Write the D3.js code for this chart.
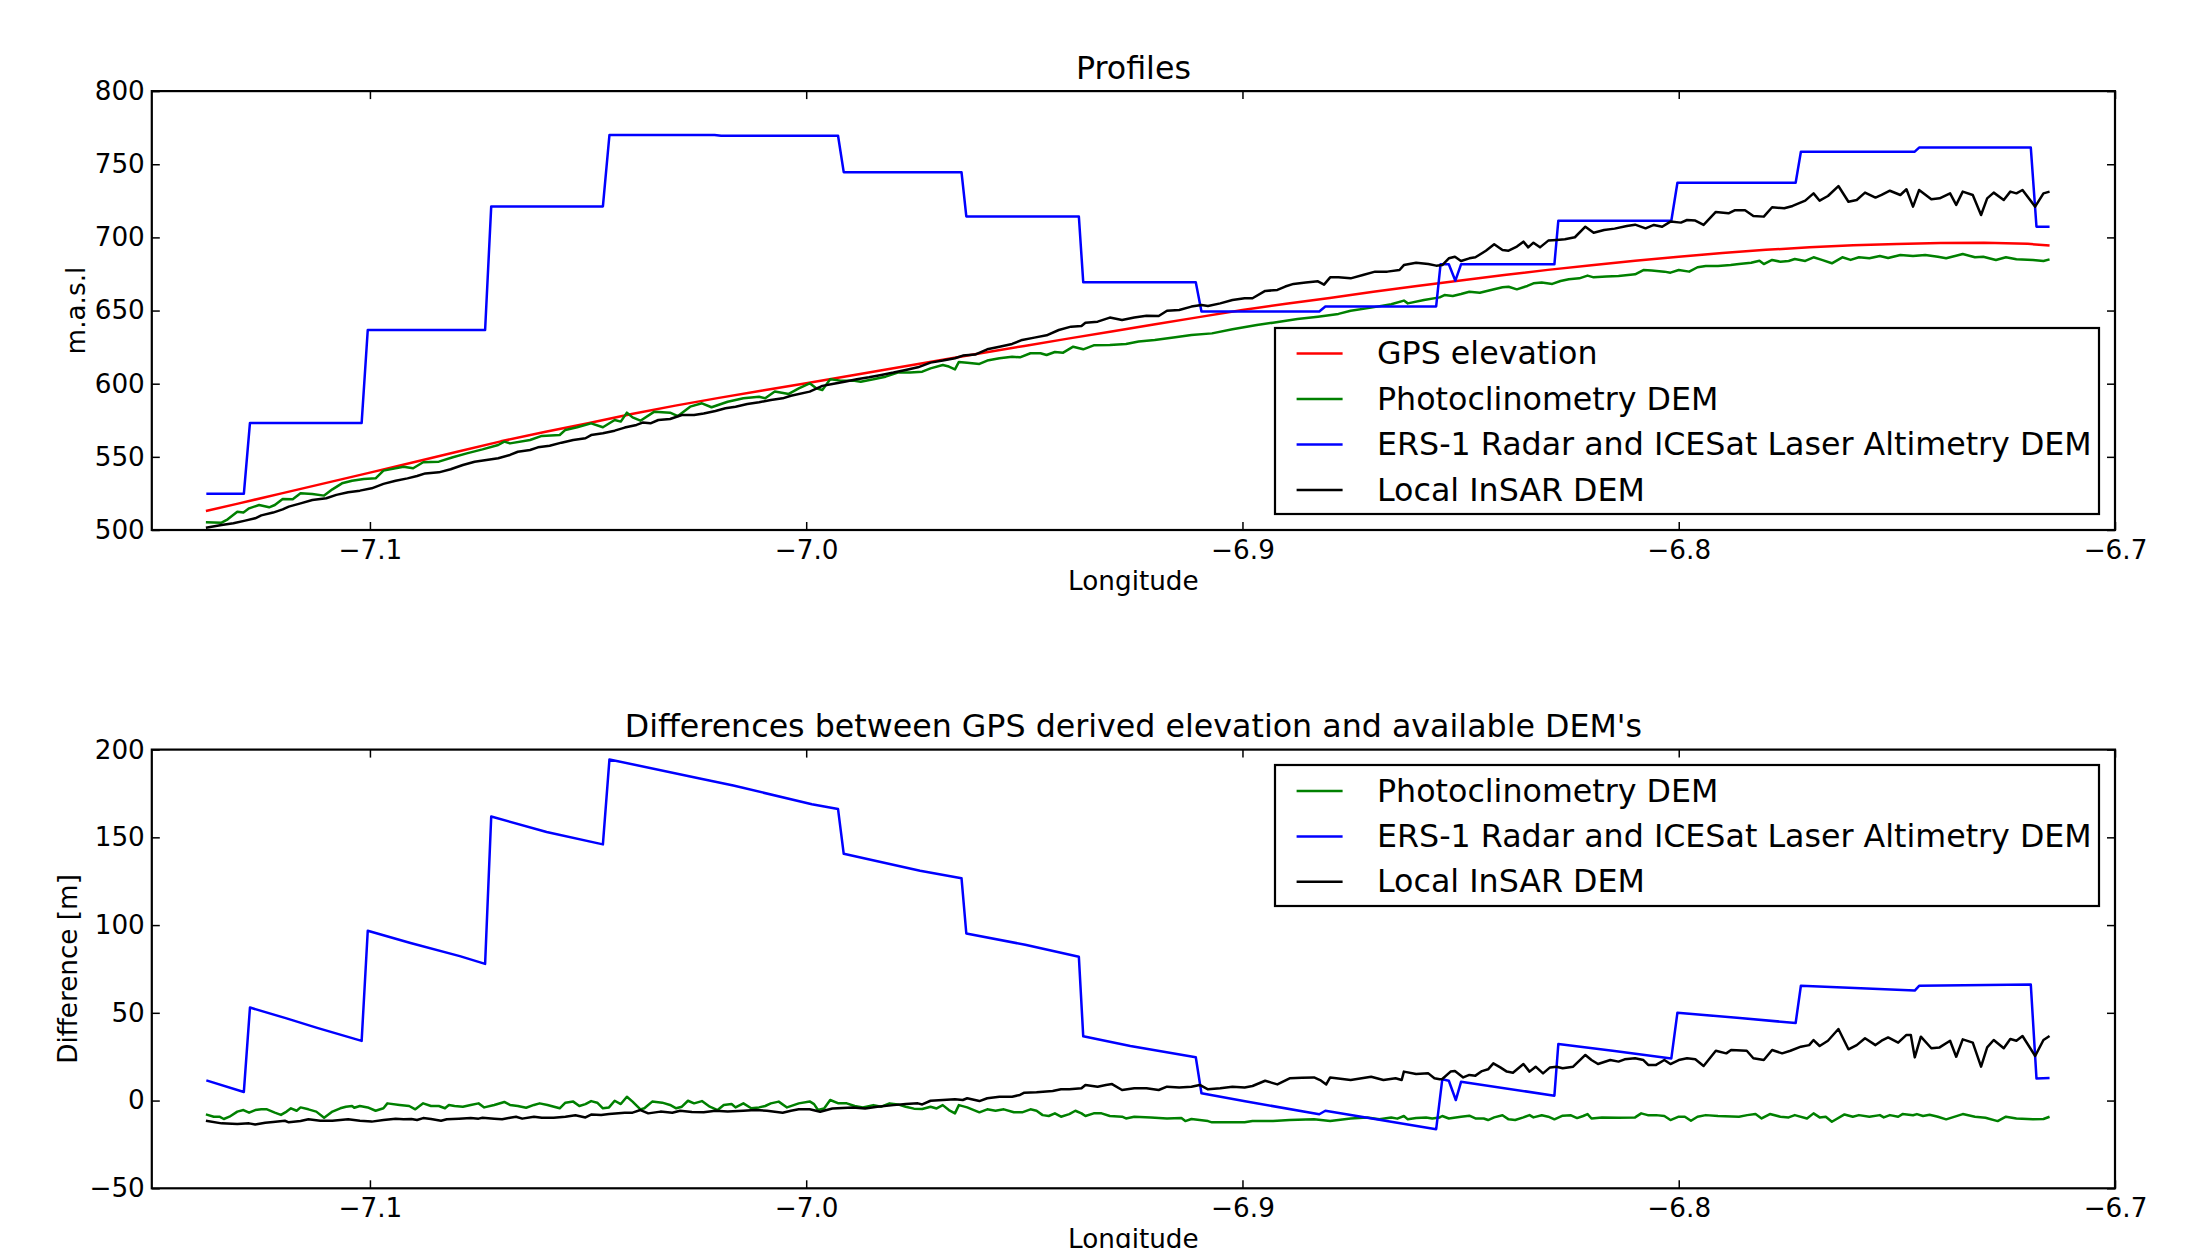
<!DOCTYPE html>
<html>
<head>
<meta charset="utf-8">
<script src="https://cdn.jsdelivr.net/npm/d3@7"></script>
<style>
body { margin: 0; background: #fff; }
text { font-family: "DejaVu Sans", sans-serif; }
</style>
</head>
<body>
<script>
// tick values
const xTicks = [-7.1, -7.0, -6.9, -6.8, -6.7];
const profileTicks = [500, 550, 600, 650, 700, 750, 800];
const diffTicks = [-50, 0, 50, 100, 150, 200];

// series labels
const profileLabels = ["GPS elevation", "Photoclinometry DEM", "ERS-1 Radar and ICESat Laser Altimetry DEM", "Local InSAR DEM"];
const diffLabels = ["Photoclinometry DEM", "ERS-1 Radar and ICESat Laser Altimetry DEM", "Local InSAR DEM"];

// [longitude, m.a.s.l]
const profileGps = [[-7.1376,513.0],[-7.13,518.2],[-7.12,525.2],[-7.11,532.2],[-7.10,539.2],[-7.09,546.3],[-7.08,553.5],[-7.07,560.6],[-7.06,567.0],[-7.05,573.0],[-7.04,579.3],[-7.03,585.0],[-7.02,590.3],[-7.01,595.4],[-7.00,600.3],[-6.99,605.5],[-6.98,610.6],[-6.97,615.7],[-6.96,620.8],[-6.95,625.8],[-6.94,630.8],[-6.93,635.7],[-6.92,640.6],[-6.91,645.5],[-6.90,650.4],[-6.89,654.6],[-6.88,658.6],[-6.87,662.8],[-6.86,666.8],[-6.85,670.6],[-6.84,674.3],[-6.83,677.8],[-6.82,681.0],[-6.81,684.0],[-6.80,686.8],[-6.79,689.3],[-6.78,691.5],[-6.77,693.2],[-6.76,694.6],[-6.75,695.5],[-6.74,696.1],[-6.73,696.3],[-6.72,695.6],[-6.715,694.4]];

const profilePhoto = [[-7.1376,505.3],[-7.1340,505.0],[-7.1326,507.3],[-7.1304,512.5],[-7.1290,511.9],[-7.1277,514.8],[-7.1254,517.1],[-7.1231,515.5],[-7.1218,517.1],[-7.1200,521.2],[-7.1177,521.0],[-7.1159,525.1],[-7.1132,524.6],[-7.1105,523.5],[-7.1086,527.8],[-7.1064,531.9],[-7.1041,533.7],[-7.1014,534.9],[-7.0987,535.3],[-7.0969,540.6],[-7.0923,543.3],[-7.0901,542.2],[-7.0878,546.3],[-7.0842,546.7],[-7.0810,549.7],[-7.0778,552.4],[-7.0742,555.1],[-7.0706,558.1],[-7.0692,560.4],[-7.0679,559.2],[-7.0633,561.5],[-7.0606,564.3],[-7.0565,564.9],[-7.0552,568.4],[-7.0525,570.2],[-7.0493,572.9],[-7.0466,570.2],[-7.0439,575.2],[-7.0425,574.1],[-7.0411,580.2],[-7.0398,577.0],[-7.0380,574.7],[-7.0348,580.9],[-7.0312,580.2],[-7.0294,577.9],[-7.0266,584.3],[-7.0239,586.6],[-7.0217,583.9],[-7.0180,587.7],[-7.0144,590.0],[-7.0108,591.1],[-7.0094,590.0],[-7.0072,594.6],[-7.0040,593.0],[-7.0017,596.8],[-6.9992,600.3],
  [-6.9977,596.9],[-6.9963,595.7],[-6.9945,603.0],[-6.9921,602.1],[-6.9893,602.1],[-6.9875,601.4],[-6.9846,603.0],[-6.9818,604.8],[-6.9790,607.6],[-6.9762,607.6],[-6.9734,608.2],[-6.9715,610.5],[-6.9687,612.8],[-6.9673,611.7],[-6.9659,609.8],[-6.9650,614.9],[-6.9631,614.4],[-6.9603,613.5],[-6.9585,615.8],[-6.9557,617.4],[-6.9528,618.5],[-6.9510,618.0],[-6.9486,620.8],[-6.9463,620.8],[-6.9449,619.6],[-6.9430,621.7],[-6.9411,621.2],[-6.9388,625.3],[-6.9365,623.5],[-6.9341,626.2],[-6.9304,626.5],[-6.9267,627.2],[-6.9238,628.8],[-6.9201,629.9],[-6.9154,631.7],[-6.9117,633.3],[-6.9070,634.4],[-6.9023,637.2],[-6.8967,640.1],[-6.8930,641.7],[-6.8874,644.2],[-6.8827,645.8],[-6.8780,647.7],[-6.8752,649.9],[-6.8705,652.0],[-6.8659,654.3],[-6.8630,656.8],[-6.8621,654.9],[-6.8584,657.2],[-6.8548,659.0],
  [-6.8537,660.6],[-6.8518,660.0],[-6.8499,661.3],[-6.8480,662.9],[-6.8456,662.2],[-6.8442,663.2],[-6.8423,664.5],[-6.8404,665.9],[-6.8390,666.3],[-6.8371,664.5],[-6.8347,666.8],[-6.8333,668.6],[-6.8314,669.1],[-6.8290,668.2],[-6.8271,670.2],[-6.8252,671.4],[-6.8228,672.0],[-6.8209,673.9],[-6.8195,672.7],[-6.8166,673.2],[-6.8138,673.6],[-6.8100,674.8],[-6.8081,677.7],[-6.8062,677.3],[-6.8033,676.6],[-6.8019,675.9],[-6.8000,677.7],[-6.7976,676.6],[-6.7957,679.6],[-6.7938,680.5],[-6.7910,680.5],[-6.7881,681.2],[-6.7862,681.8],[-6.7834,682.7],[-6.7815,684.1],[-6.7805,681.8],[-6.7786,684.6],[-6.7767,683.4],[-6.7748,683.9],[-6.7734,685.2],[-6.7710,683.9],[-6.7691,686.4],[-6.7672,684.6],[-6.7649,682.3],[-6.7625,686.4],[-6.7606,684.6],[-6.7587,686.4],[-6.7563,685.7],[-6.7539,687.3],[-6.7520,685.9],[-6.7492,688.0],[-6.7463,687.3],[-6.7435,688.0],[-6.7406,686.8],[-6.7387,685.7],[-6.7349,688.7],[-6.7321,686.4],[-6.7302,686.8],[-6.7273,684.6],[-6.7250,686.4],[-6.7226,685.0],[-6.7188,684.6],[-6.7164,683.9],[-6.7150,685.0]];

const profileErs = [[-7.1375,524.7],[-7.1289,524.7],[-7.1275,573.2],[-7.1019,573.2],[-7.1005,636.7],[-7.0736,636.7],[-7.0722,721.2],[-7.0466,721.2],[-7.0451,770.0],[-7.0210,770.0],[-7.0195,769.5],[-6.9927,769.5],[-6.9914,744.6],[-6.9644,744.6],[-6.9633,714.3],[-6.9375,714.3],[-6.9365,669.4],[-6.9107,669.4],[-6.9094,649.4],[-6.8824,649.4],[-6.8810,652.8],[-6.8556,652.8],[-6.8546,681.6],[-6.8527,681.6],[-6.8512,670.4],[-6.8499,681.6],[-6.8285,681.6],[-6.8276,711.4],[-6.8017,711.4],[-6.8003,737.4],[-6.7732,737.4],[-6.7720,758.6],[-6.7459,758.6],[-6.7449,761.4],[-6.7193,761.4],[-6.7180,707.3],[-6.7150,707.3]];

const profileInsar = [[-7.1376,501.6],[-7.1340,503.4],[-7.1313,504.6],[-7.1286,506.4],[-7.1263,508.0],[-7.1249,510.0],[-7.1222,511.9],[-7.1200,514.1],[-7.1186,516.0],[-7.1159,518.2],[-7.1132,520.5],[-7.1100,521.7],[-7.1077,524.0],[-7.1050,525.8],[-7.1023,526.9],[-7.0996,528.5],[-7.0969,531.5],[-7.0941,533.7],[-7.0914,535.3],[-7.0892,536.9],[-7.0873,538.7],[-7.0842,539.4],[-7.0815,541.5],[-7.0787,544.4],[-7.0760,546.7],[-7.0733,547.9],[-7.0706,549.0],[-7.0679,551.3],[-7.0661,553.5],[-7.0633,554.7],[-7.0615,556.5],[-7.0588,557.6],[-7.0561,559.7],[-7.0534,561.5],[-7.0506,562.7],[-7.0493,564.9],[-7.0466,566.1],[-7.0439,567.9],[-7.0416,570.0],[-7.0389,571.8],[-7.0375,573.4],[-7.0357,572.9],[-7.0339,575.2],[-7.0312,575.9],[-7.0285,578.6],[-7.0257,578.6],[-7.0235,579.7],[-7.0208,581.3],[-7.0185,583.2],[-7.0162,584.3],[-7.0135,586.1],[-7.0108,587.3],[-7.0081,588.9],[-7.0054,590.0],[-7.0035,591.8],[-6.9992,594.6],
  [-6.9963,598.5],[-6.9940,599.8],[-6.9912,601.4],[-6.9884,603.0],[-6.9856,604.4],[-6.9828,606.0],[-6.9800,607.6],[-6.9772,609.4],[-6.9744,611.2],[-6.9715,614.4],[-6.9687,615.8],[-6.9659,617.4],[-6.9641,619.2],[-6.9613,619.9],[-6.9585,623.5],[-6.9557,625.3],[-6.9528,627.2],[-6.9505,629.9],[-6.9477,631.5],[-6.9449,633.1],[-6.9421,636.7],[-6.9393,639.0],[-6.9369,639.5],[-6.9360,641.7],[-6.9332,642.4],[-6.9304,645.2],[-6.9276,643.6],[-6.9248,645.2],[-6.9220,646.5],[-6.9192,646.3],[-6.9173,649.9],[-6.9145,650.4],[-6.9117,652.7],[-6.9094,653.8],[-6.9079,653.1],[-6.9051,654.9],[-6.9023,657.2],[-6.8995,658.4],[-6.8977,658.4],[-6.8948,663.4],[-6.8920,664.1],[-6.8902,666.4],[-6.8883,668.2],[-6.8855,669.1],[-6.8827,670.0],[-6.8813,667.7],[-6.8799,672.7],[-6.8780,672.7],[-6.8752,672.0],[-6.8724,674.3],[-6.8696,676.6],[-6.8668,676.6],[-6.8640,677.7],[-6.8630,681.1],[-6.8602,682.7],[-6.8574,681.8],
  [-6.8556,680.7],[-6.8542,681.1],[-6.8527,685.7],[-6.8513,686.8],[-6.8499,683.9],[-6.8480,685.7],[-6.8466,686.4],[-6.8442,690.9],[-6.8423,695.3],[-6.8404,691.4],[-6.8390,690.9],[-6.8371,693.7],[-6.8356,697.1],[-6.8345,693.2],[-6.8333,696.4],[-6.8318,693.2],[-6.8299,697.8],[-6.8280,698.2],[-6.8261,698.7],[-6.8238,700.1],[-6.8214,707.3],[-6.8195,703.2],[-6.8171,705.1],[-6.8147,706.0],[-6.8119,707.8],[-6.8100,708.7],[-6.8076,706.2],[-6.8057,708.5],[-6.8038,707.3],[-6.8019,710.8],[-6.7995,710.1],[-6.7981,711.9],[-6.7962,711.5],[-6.7943,708.5],[-6.7915,717.4],[-6.7886,716.5],[-6.7872,718.5],[-6.7848,718.5],[-6.7829,714.6],[-6.7805,714.2],[-6.7786,720.6],[-6.7758,719.9],[-6.7739,721.5],[-6.7710,725.1],[-6.7691,730.1],[-6.7677,725.1],[-6.7658,728.3],[-6.7634,735.1],[-6.7611,724.4],[-6.7592,725.6],[-6.7573,730.6],[-6.7549,727.2],[-6.7535,729.0],[-6.7516,731.9],[-6.7492,729.0],[-6.7478,732.9],[-6.7463,721.0],[-6.7449,732.4],[-6.7421,726.0],[-6.7402,726.7],[-6.7378,730.1],[-6.7364,722.2],[-6.7349,731.3],[-6.7326,729.0],[-6.7307,715.3],[-6.7293,726.7],[-6.7278,730.6],[-6.7255,725.6],[-6.7240,731.3],[-6.7226,730.1],[-6.7212,732.4],[-6.7183,721.0],[-6.7164,730.1],[-6.7150,731.3]];

// [longitude, difference in m]
const diffPhoto = [[-7.1376,-7.9],[-7.1358,-9.2],[-7.1345,-9.2],[-7.1335,-10.5],[-7.1322,-9.2],[-7.1304,-6.3],[-7.1290,-5.4],[-7.1277,-6.9],[-7.1263,-5.4],[-7.1249,-5.0],[-7.1236,-5.0],[-7.1218,-6.9],[-7.1204,-8.2],[-7.1191,-6.3],[-7.1181,-4.4],[-7.1168,-5.8],[-7.1159,-3.9],[-7.1141,-5.0],[-7.1123,-6.3],[-7.1105,-9.8],[-7.1086,-6.3],[-7.1068,-4.4],[-7.1055,-3.5],[-7.1041,-3.1],[-7.1036,-4.1],[-7.1023,-3.1],[-7.1005,-3.9],[-7.0987,-5.8],[-7.0969,-4.4],[-7.0960,-1.6],[-7.0932,-2.5],[-7.0910,-3.1],[-7.0896,-5.0],[-7.0878,-1.6],[-7.0860,-3.1],[-7.0842,-3.1],[-7.0828,-4.4],[-7.0819,-2.5],[-7.0806,-3.1],[-7.0787,-3.5],[-7.0769,-2.5],[-7.0751,-1.6],[-7.0738,-3.9],[-7.0715,-2.5],[-7.0692,-0.8],[-7.0679,-2.5],[-7.0661,-3.1],[-7.0642,-4.1],[-7.0624,-2.5],[-7.0611,-1.6],[-7.0593,-2.5],[-7.0565,-4.4],[-7.0552,-1.2],[-7.0534,-0.6],[-7.0520,-3.1],[-7.0506,-2.0],[-7.0493,-0.3],[-7.0479,-1.2],[-7.0466,-4.4],[-7.0452,-3.9],[-7.0439,-0.1],[-7.0425,-2.0],[-7.0411,2.2],[-7.0398,-0.6],[-7.0380,-5.0],[-7.0371,-4.4],[-7.0353,-0.6],[-7.0330,-1.2],[-7.0312,-2.5],[-7.0298,-4.4],[-7.0285,-3.5],[-7.0271,-0.1],[-7.0257,-1.6],[-7.0239,-0.3],[-7.0221,-3.5],[-7.0203,-5.4],[-7.0189,-2.5],[-7.0171,-2.0],[-7.0162,-3.9],[-7.0144,-1.6],[-7.0126,-4.4],[-7.0108,-3.9],[-7.0094,-3.1],[-7.0081,-1.6],[-7.0063,-0.6],[-7.0044,-3.9],[-7.0017,-1.6],[-6.9992,-0.5],
  [-6.9982,-2.0],[-6.9973,-5.4],[-6.9959,-4.5],[-6.9945,0.3],[-6.9926,-1.6],[-6.9907,-1.6],[-6.9889,-3.1],[-6.9870,-3.9],[-6.9846,-2.6],[-6.9828,-3.5],[-6.9809,-1.6],[-6.9790,-2.2],[-6.9772,-3.5],[-6.9753,-4.6],[-6.9734,-4.8],[-6.9715,-3.5],[-6.9701,-4.5],[-6.9687,-2.6],[-6.9673,-5.4],[-6.9659,-7.3],[-6.9650,-2.6],[-6.9631,-3.9],[-6.9603,-6.7],[-6.9585,-5.0],[-6.9566,-5.8],[-6.9547,-5.0],[-6.9524,-6.7],[-6.9505,-6.7],[-6.9486,-5.0],[-6.9472,-5.8],[-6.9458,-8.3],[-6.9444,-8.8],[-6.9430,-7.3],[-6.9416,-9.2],[-6.9397,-7.7],[-6.9383,-5.8],[-6.9369,-7.3],[-6.9360,-8.8],[-6.9341,-7.3],[-6.9323,-7.3],[-6.9304,-8.8],[-6.9276,-9.2],[-6.9267,-10.2],[-6.9248,-9.2],[-6.9210,-9.6],[-6.9173,-10.2],[-6.9140,-10.0],[-6.9131,-11.7],[-6.9117,-10.5],[-6.9079,-11.7],[-6.9070,-12.4],[-6.9033,-12.4],[-6.8995,-12.4],[-6.8977,-11.7],[-6.8930,-11.7],[-6.8892,-11.1],[-6.8836,-10.7],[-6.8799,-11.7],[-6.8752,-10.2],[-6.8714,-9.6],[-6.8686,-10.7],[-6.8659,-9.6],[-6.8645,-10.3],[-6.8630,-8.8],[-6.8621,-10.7],[-6.8602,-10.0],[-6.8579,-9.6],[-6.8565,-10.2],[-6.8548,-9.6],
  [-6.8542,-8.8],[-6.8527,-10.2],[-6.8499,-9.2],[-6.8480,-8.6],[-6.8466,-10.2],[-6.8447,-10.2],[-6.8437,-11.1],[-6.8423,-9.6],[-6.8404,-8.4],[-6.8390,-10.7],[-6.8375,-11.1],[-6.8356,-9.6],[-6.8342,-8.3],[-6.8333,-9.6],[-6.8314,-8.4],[-6.8299,-9.2],[-6.8285,-10.7],[-6.8266,-8.6],[-6.8247,-8.4],[-6.8233,-10.0],[-6.8219,-8.8],[-6.8209,-7.7],[-6.8200,-10.2],[-6.8176,-9.6],[-6.8138,-9.8],[-6.8100,-9.6],[-6.8086,-7.3],[-6.8071,-8.3],[-6.8052,-8.3],[-6.8033,-8.8],[-6.8019,-11.1],[-6.8000,-9.2],[-6.7986,-9.2],[-6.7972,-11.5],[-6.7957,-9.2],[-6.7938,-8.3],[-6.7910,-8.8],[-6.7862,-9.2],[-6.7843,-8.3],[-6.7824,-7.7],[-6.7810,-10.2],[-6.7791,-7.7],[-6.7767,-9.2],[-6.7748,-9.6],[-6.7734,-8.3],[-6.7706,-10.2],[-6.7691,-7.3],[-6.7677,-9.6],[-6.7663,-9.2],[-6.7649,-12.1],[-6.7620,-7.9],[-6.7601,-9.2],[-6.7587,-8.3],[-6.7563,-9.2],[-6.7539,-8.3],[-6.7530,-9.6],[-6.7516,-8.3],[-6.7497,-9.2],[-6.7487,-7.7],[-6.7463,-8.4],[-6.7454,-7.7],[-6.7440,-8.8],[-6.7425,-8.1],[-6.7406,-9.2],[-6.7387,-10.7],[-6.7349,-7.7],[-6.7321,-9.2],[-6.7297,-9.8],[-6.7269,-11.7],[-6.7250,-9.2],[-6.7226,-10.2],[-6.7188,-10.7],[-6.7164,-10.5],[-6.7150,-9.2]];

const diffErs = [[-7.1375,11.5],[-7.1289,4.9],[-7.1275,53.0],[-7.1193,47.0],[-7.1121,41.4],[-7.1019,34.0],[-7.1005,96.8],[-7.0907,89.8],[-7.0794,82.3],[-7.0736,77.9],[-7.0722,161.9],[-7.0595,153.0],[-7.0466,146.0],[-7.0451,194.4],[-7.0244,183.5],[-7.0167,179.5],[-6.9987,168.9],[-6.9927,166.1],[-6.9914,140.6],[-6.9739,131.0],[-6.9644,126.7],[-6.9633,95.2],[-6.9498,88.8],[-6.9375,81.9],[-6.9365,36.6],[-6.9257,31.1],[-6.9107,24.7],[-6.9094,4.2],[-6.8994,-0.4],[-6.8824,-7.8],[-6.8810,-5.8],[-6.8556,-16.3],[-6.8542,12.1],[-6.8527,11.3],[-6.8511,0.3],[-6.8499,10.7],[-6.8285,2.8],[-6.8276,32.2],[-6.8147,28.3],[-6.8017,24.0],[-6.8003,50.1],[-6.7860,47.0],[-6.7732,44.2],[-6.7720,65.4],[-6.7459,62.7],[-6.7449,65.4],[-6.7193,66.1],[-6.7180,12.6],[-6.7150,12.9]];

const diffInsar = [[-7.1376,-11.5],[-7.1340,-13.0],[-7.1304,-13.4],[-7.1277,-13.0],[-7.1263,-13.6],[-7.1240,-12.6],[-7.1222,-12.2],[-7.1195,-11.5],[-7.1186,-12.4],[-7.1159,-11.7],[-7.1141,-10.7],[-7.1114,-11.5],[-7.1086,-11.5],[-7.1068,-11.1],[-7.1050,-10.7],[-7.1023,-11.5],[-7.0996,-12.0],[-7.0969,-11.1],[-7.0941,-10.3],[-7.0923,-10.7],[-7.0905,-10.5],[-7.0892,-11.1],[-7.0878,-10.0],[-7.0860,-10.5],[-7.0837,-11.5],[-7.0824,-10.7],[-7.0796,-10.3],[-7.0769,-10.0],[-7.0751,-10.3],[-7.0742,-9.8],[-7.0715,-10.3],[-7.0697,-10.7],[-7.0679,-9.8],[-7.0665,-9.2],[-7.0651,-10.3],[-7.0624,-9.2],[-7.0606,-9.8],[-7.0579,-9.8],[-7.0552,-9.2],[-7.0529,-8.4],[-7.0506,-9.6],[-7.0493,-8.0],[-7.0470,-8.2],[-7.0452,-7.7],[-7.0416,-6.9],[-7.0398,-6.9],[-7.0380,-5.4],[-7.0362,-7.3],[-7.0334,-6.3],[-7.0307,-6.9],[-7.0289,-5.8],[-7.0262,-6.5],[-7.0235,-6.7],[-7.0208,-5.8],[-7.0180,-6.3],[-7.0144,-5.8],[-7.0117,-5.4],[-7.0090,-5.8],[-7.0054,-6.9],[-7.0035,-5.8],[-7.0017,-5.0],[-6.9992,-5.0],
  [-6.9968,-6.4],[-6.9940,-4.5],[-6.9893,-3.9],[-6.9865,-4.5],[-6.9837,-3.5],[-6.9800,-2.6],[-6.9772,-2.0],[-6.9744,-1.6],[-6.9734,-2.2],[-6.9715,-0.1],[-6.9687,0.3],[-6.9659,0.7],[-6.9641,0.3],[-6.9631,1.3],[-6.9603,-0.3],[-6.9585,1.3],[-6.9557,2.2],[-6.9528,2.2],[-6.9510,3.2],[-6.9500,4.5],[-6.9472,4.7],[-6.9435,5.4],[-6.9416,6.4],[-6.9397,6.4],[-6.9369,7.0],[-6.9360,8.9],[-6.9332,7.9],[-6.9313,8.9],[-6.9299,9.4],[-6.9276,6.0],[-6.9248,7.0],[-6.9220,7.0],[-6.9192,6.0],[-6.9173,7.9],[-6.9145,7.5],[-6.9117,7.9],[-6.9098,8.9],[-6.9079,6.4],[-6.9051,7.0],[-6.9023,7.9],[-6.8995,7.5],[-6.8977,8.3],[-6.8948,11.3],[-6.8920,9.2],[-6.8892,12.7],[-6.8864,13.0],[-6.8836,13.2],[-6.8822,11.7],[-6.8808,9.2],[-6.8799,13.2],[-6.8752,11.7],[-6.8705,13.6],[-6.8677,11.7],[-6.8649,12.7],[-6.8635,11.7],[-6.8630,16.5],[-6.8602,15.1],[-6.8574,15.5],[-6.8560,12.7],[-6.8548,12.1],
  [-6.8542,12.3],[-6.8523,16.5],[-6.8513,16.8],[-6.8494,13.2],[-6.8480,14.6],[-6.8466,14.2],[-6.8451,16.8],[-6.8437,17.8],[-6.8425,21.2],[-6.8409,18.9],[-6.8394,16.5],[-6.8380,15.9],[-6.8356,20.8],[-6.8342,16.5],[-6.8328,19.3],[-6.8311,15.5],[-6.8295,18.9],[-6.8280,19.3],[-6.8266,18.4],[-6.8242,19.3],[-6.8214,26.0],[-6.8200,23.1],[-6.8185,20.8],[-6.8157,23.1],[-6.8138,22.2],[-6.8124,23.5],[-6.8100,24.1],[-6.8081,23.1],[-6.8070,20.3],[-6.8052,20.3],[-6.8033,23.1],[-6.8019,20.8],[-6.8000,23.1],[-6.7981,24.1],[-6.7962,23.5],[-6.7943,19.7],[-6.7915,28.4],[-6.7891,26.9],[-6.7880,28.8],[-6.7844,28.4],[-6.7829,24.1],[-6.7805,23.1],[-6.7786,28.8],[-6.7763,26.9],[-6.7744,28.4],[-6.7720,30.7],[-6.7701,31.6],[-6.7691,34.5],[-6.7677,31.1],[-6.7658,34.1],[-6.7634,40.8],[-6.7611,29.2],[-6.7592,31.6],[-6.7573,35.5],[-6.7549,31.6],[-6.7535,34.1],[-6.7520,36.0],[-6.7497,33.0],[-6.7478,37.4],[-6.7468,37.4],[-6.7459,24.6],[-6.7445,36.4],[-6.7421,29.8],[-6.7402,30.3],[-6.7378,34.1],[-6.7364,25.0],[-6.7349,34.9],[-6.7326,33.0],[-6.7307,19.3],[-6.7293,30.3],[-6.7278,34.5],[-6.7255,29.8],[-6.7240,35.1],[-6.7226,34.1],[-6.7212,36.8],[-6.7183,25.4],[-6.7164,34.5],[-6.7150,36.8]];

const width = 2209, height = 1248;
const tickFont = 26.25, bigFont = 31.7;

let svg = d3.select("body").append("svg")
    .attr("width", width)
    .attr("height", height);

function styleAxis(g) {
    g.select(".domain").remove();
    g.attr("font-family", null).attr("font-size", null);
    g.selectAll(".tick line").attr("stroke", "#000").attr("stroke-width", 1.5);
    g.selectAll(".tick text").attr("fill", "#000").style("font-size", tickFont + "px");
}

function drawPanel(p) {
    let x = d3.scaleLinear().domain([-7.15, -6.7]).range([p.left, p.right]);
    let y = d3.scaleLinear().domain(p.yDomain).range([p.bottom, p.top]);
    let fmtX = d3.format(".1f");

    // bottom axis with labels, ticks point inwards on all four sides
    svg.append("g")
        .attr("transform", "translate(0," + p.bottom + ")")
        .call(d3.axisBottom(x).tickValues(xTicks).tickSize(-8).tickPadding(10).tickFormat(fmtX))
        .call(styleAxis);
    svg.append("g")
        .attr("transform", "translate(0," + p.top + ")")
        .call(d3.axisTop(x).tickValues(xTicks).tickSize(-8).tickFormat(""))
        .call(styleAxis);
    svg.append("g")
        .attr("transform", "translate(" + p.left + ",0)")
        .call(d3.axisLeft(y).tickValues(p.yTicks).tickSize(-8).tickPadding(7).tickFormat(d3.format("d")))
        .call(styleAxis);
    svg.append("g")
        .attr("transform", "translate(" + p.right + ",0)")
        .call(d3.axisRight(y).tickValues(p.yTicks).tickSize(-8).tickFormat(""))
        .call(styleAxis);

    let line = d3.line()
        .x(d => x(d[0]))
        .y(d => y(d[1]));

    p.series.forEach(s => {
        svg.append("path")
            .datum(s.data)
            .attr("fill", "none")
            .attr("stroke", s.color)
            .attr("stroke-width", 2.5)
            .attr("stroke-linejoin", "round")
            .attr("d", line);
    });

    // frame
    svg.append("rect")
        .attr("x", p.left).attr("y", p.top)
        .attr("width", p.right - p.left).attr("height", p.bottom - p.top)
        .attr("fill", "none").attr("stroke", "#000").attr("stroke-width", 2.2);

    svg.append("text")
        .attr("x", (p.left + p.right) / 2).attr("y", p.top - 12.5)
        .attr("text-anchor", "middle")
        .style("font-size", bigFont + "px")
        .text(p.title);

    svg.append("text")
        .attr("x", (p.left + p.right) / 2).attr("y", p.bottom + 60)
        .attr("text-anchor", "middle")
        .style("font-size", tickFont + "px")
        .text("Longitude");

    svg.append("text")
        .attr("transform", "translate(" + p.ylabelX + "," + (p.top + p.bottom) / 2 + ") rotate(-90)")
        .attr("text-anchor", "middle")
        .style("font-size", tickFont + "px")
        .text(p.ylabel);

    // legend box
    let lg = p.legend;
    svg.append("rect")
        .attr("x", lg.x).attr("y", lg.y)
        .attr("width", lg.w).attr("height", lg.h)
        .attr("fill", "#fff").attr("stroke", "#000").attr("stroke-width", 2.2);
    p.series.forEach((s, i) => {
        let cy = lg.firstRow + i * lg.rowStep;
        svg.append("line")
            .attr("x1", lg.x + 21.6).attr("x2", lg.x + 67.6)
            .attr("y1", cy).attr("y2", cy)
            .attr("stroke", s.color).attr("stroke-width", 2.5);
        svg.append("text")
            .attr("x", lg.x + 102).attr("y", cy + 10.5)
            .style("font-size", bigFont + "px")
            .text(s.label);
    });
}

drawPanel({
    left: 151.8, right: 2115, top: 91.1, bottom: 530,
    yDomain: [500, 800], yTicks: profileTicks,
    title: "Profiles", ylabel: "m.a.s.l", ylabelX: 84.6,
    series: [
        { data: profileGps, color: "#ff0000", label: profileLabels[0] },
        { data: profilePhoto, color: "#008000", label: profileLabels[1] },
        { data: profileErs, color: "#0000ff", label: profileLabels[2] },
        { data: profileInsar, color: "#000000", label: profileLabels[3] }
    ],
    legend: { x: 1275, y: 328, w: 824, h: 186, firstRow: 353.6, rowStep: 45.5 }
});

drawPanel({
    left: 151.8, right: 2115, top: 749.6, bottom: 1188.3,
    yDomain: [-50, 200], yTicks: diffTicks,
    title: "Differences between GPS derived elevation and available DEM's", ylabel: "Difference [m]", ylabelX: 77,
    series: [
        { data: diffPhoto, color: "#008000", label: diffLabels[0] },
        { data: diffErs, color: "#0000ff", label: diffLabels[1] },
        { data: diffInsar, color: "#000000", label: diffLabels[2] }
    ],
    legend: { x: 1275, y: 765, w: 824, h: 141, firstRow: 791, rowStep: 45.4 }
});
</script>
</body>
</html>
